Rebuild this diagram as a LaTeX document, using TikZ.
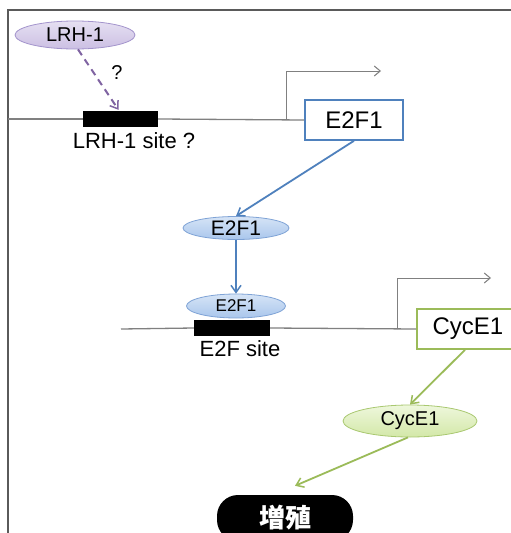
\documentclass[tikz,border=0pt]{standalone}
\usepackage{fontspec}
\setmainfont{Liberation Sans}
\newfontfamily\cjk{Noto Sans CJK JP}
\usetikzlibrary{shapes.geometric,arrows.meta,calc}

\definecolor{dnagray}{HTML}{808080}
\definecolor{framegray}{HTML}{5A5A5A}
\definecolor{lrhfill}{HTML}{CBBFE3}
\definecolor{lrhtop}{HTML}{E6E0F2}
\definecolor{lrhedge}{HTML}{A394CC}
\definecolor{lrharrow}{HTML}{8064A2}
\definecolor{e2fill}{HTML}{A9C6EC}
\definecolor{e2top}{HTML}{D6E4F6}
\definecolor{e2edge}{HTML}{7FA3D6}
\definecolor{e2arrow}{HTML}{4F81BD}
\definecolor{cycfill}{HTML}{D3E8A8}
\definecolor{cyctop}{HTML}{EEF7DC}
\definecolor{cycedge}{HTML}{A9C870}
\definecolor{cycarrow}{HTML}{9BBB59}

\tikzset{
  protein/.style={ellipse, draw, line width=0.8pt, inner sep=0pt},
  lrhprot/.style={protein, draw=lrhedge, top color=lrhtop, bottom color=lrhfill},
  e2prot/.style={protein, draw=e2edge, top color=e2top, bottom color=e2fill},
  cycprot/.style={protein, draw=cycedge, top color=cyctop, bottom color=cycfill},
  gene/.style={rectangle, draw, line width=1.6pt, fill=white, inner sep=0pt,
    minimum height=40pt, font=\fontsize{24}{24}\selectfont},
  site/.style={rectangle, fill=black, inner sep=0pt, minimum height=16pt},
  sitelabel/.style={font=\fontsize{22}{22}\selectfont, inner sep=0pt},
  dna/.style={draw=dnagray, line width=1.3pt},
  promoter/.style={draw=dnagray, line width=1pt,
    -{Straight Barb[length=6pt,width=10pt,line width=1pt]}},
  link/.style={line width=1.8pt, -{Straight Barb[length=7pt,width=10pt,line width=1.5pt]}},
}

\begin{document}
\begin{tikzpicture}[x=1pt,y=-1pt]
\clip (0,0) rectangle (511,533);
\fill[white] (0,0) rectangle (511,533);

% frame
\draw[framegray, line width=1.5pt] (8,540) -- (8,10) -- (520,10);

% upstream gene: E2F1
\node[site, minimum width=75pt] (site1) at (120.5,119) {};
\node[gene, draw=e2arrow, minimum width=98pt] (box1) at (354,120) {E2F1};
\coordinate (dna1) at (8,119);
\coordinate (tss1) at (286,119);
\coordinate (tss1top) at (286,71);
\coordinate (tss1end) at (381,71);
\path[dna] (dna1) -- (site1.west);
\path[dna] (site1.east) -- (box1.west);
\path[promoter] (tss1) -- (tss1top) -- (tss1end);
\node[sitelabel] (lbl1) at (134,141) {LRH-1 site ?};

\node[lrhprot, minimum width=120pt, minimum height=28pt,
  font=\fontsize{20}{20}\selectfont] (lrh) at (75,35) {LRH-1};
\draw[lrharrow, line width=2pt, dash pattern=on 7pt off 5pt,
  -{Straight Barb[length=7pt,width=10pt,line width=1.5pt]}]
  ([xshift=3pt]lrh.south) -- ([xshift=-2pt,yshift=1pt]site1.north);
\node[font=\fontsize{20}{20}\selectfont, inner sep=0pt] (q) at (117,73) {?};

% E2F1 protein
\node[e2prot, minimum width=106pt, minimum height=23pt,
  font=\fontsize{21}{21}\selectfont] (e2a) at (236,228) {E2F1};
\draw[link, e2arrow] (box1.south) -- (e2a.north);

% downstream gene: CycE1
\node[site, minimum width=76pt] (site2) at (232,328) {};
\node[e2prot, minimum width=99pt, minimum height=24pt,
  font=\fontsize{17}{17}\selectfont] (e2b) at (236,306) {E2F1};
\draw[link, e2arrow] (e2a.south) -- (e2b.north);
\node[gene, draw=cycarrow, minimum width=102pt] (box2) at (468,329) {CycE1};
\coordinate (dna2) at (121,329);
\coordinate (tss2) at (397,329);
\coordinate (tss2top) at (397,278);
\coordinate (tss2end) at (491,278);
\path[dna] (dna2) -- (site2.west);
\path[dna] (site2.east) -- (box2.west);
\path[promoter] (tss2) -- (tss2top) -- (tss2end);
\node[sitelabel] (lbl2) at (240,349) {E2F site};

% CycE1 protein and proliferation
\node[cycprot, minimum width=134pt, minimum height=32pt,
  font=\fontsize{20}{20}\selectfont] (cyc) at (410,421) {CycE1};
\draw[link, cycarrow] ([xshift=-3pt]box2.south) -- (cyc.north);
\node[rectangle, rounded corners=21pt, fill=black, minimum width=136pt,
  minimum height=46pt, inner sep=0pt, text=white,
  font=\cjk\bfseries\fontsize{26}{26}\selectfont] (prolif) at (285,518) {増殖};
\draw[link, cycarrow] ([xshift=-2pt]cyc.south) -- ($(prolif.north)+(10,-9)$);
\end{tikzpicture}
\end{document}
